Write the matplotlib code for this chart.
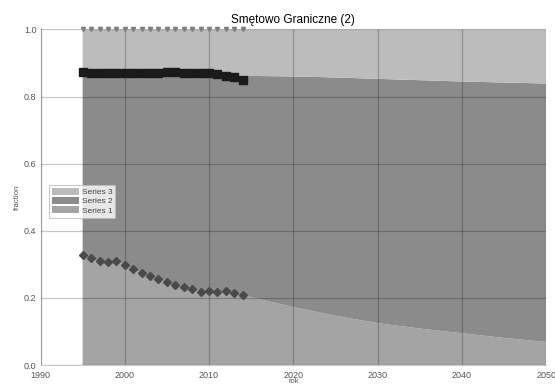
import numpy as np
import matplotlib.pyplot as plt

plt.rcParams['font.family'] = ['Liberation Sans', 'DejaVu Sans']

# historical data points
years_hist = list(range(1995, 2015))
share1_hist = [0.328, 0.318, 0.309, 0.306, 0.310, 0.299, 0.287, 0.274, 0.266, 0.257,
               0.247, 0.239, 0.232, 0.227, 0.219, 0.221, 0.219, 0.220, 0.216, 0.208]
cum2_hist = [0.874, 0.871, 0.869, 0.869, 0.870, 0.870, 0.870, 0.869, 0.870, 0.871,
             0.872, 0.873, 0.871, 0.871, 0.871, 0.871, 0.867, 0.862, 0.857, 0.849]
cum3_hist = [1.0] * 20

# stacked area (model) data
years_area = years_hist + [2020, 2025, 2030, 2035, 2040, 2045, 2050]
area1 = share1_hist + [0.173, 0.147, 0.125, 0.109, 0.095, 0.081, 0.069]
area_top2 = [0.862] * 20 + [0.860, 0.857, 0.853, 0.849, 0.845, 0.842, 0.839]
area2 = [t - a for t, a in zip(area_top2, area1)]
area3 = [1.0 - t for t in area_top2]

labels = ['Series 1', 'Series 2', 'Series 3']
colors = ['#a4a4a4', '#8b8b8b', '#bcbcbc']

fig, ax = plt.subplots(figsize=(5.55, 3.88), dpi=100)
fig.subplots_adjust(left=0.073, right=0.984, bottom=0.059, top=0.924)

ax.stackplot(years_area, area1, area2, area3, colors=colors, labels=labels, zorder=1)

ax.plot(years_hist, cum2_hist, color='#1a1a1a', marker='s', markersize=6, lw=3, zorder=4)
ax.plot(years_hist, share1_hist, color='#4a4a4a', marker='D', markersize=4.5, lw=0, zorder=4)
ax.plot(years_hist, cum3_hist, color='#808080', marker='v', markersize=3, lw=0, zorder=4,
        clip_on=False)

ax.set_xlim(1990, 2050)
ax.set_ylim(0, 1.0)
ax.set_xticks([1990, 2000, 2010, 2020, 2030, 2040, 2050])
ax.set_yticks([0.0, 0.2, 0.4, 0.6, 0.8, 1.0])
ax.set_yticklabels(['0.0', '0.2', '0.4', '0.6', '0.8', '1.0'])
ax.grid(True, color='black', alpha=0.22, lw=0.9, zorder=2)
ax.set_axisbelow(False)
for s in ax.spines.values():
    s.set_visible(False)
ax.spines['left'].set_visible(True)
ax.spines['bottom'].set_visible(True)
ax.spines['left'].set_color('#c8c8c8')
ax.spines['bottom'].set_color('#c8c8c8')
ax.tick_params(length=0, labelsize=6.5, labelcolor='#555555')
ax.tick_params(axis='x', pad=4)
ax.tick_params(axis='y', pad=3)

ax.set_title('Smętowo Graniczne (2)', fontsize=8.5, pad=5)
ax.set_xlabel('rok', fontsize=5.5, color='#555555', labelpad=-1)
ax.set_ylabel('fraction', fontsize=5.5, color='#555555', labelpad=2)

handles, labs = ax.get_legend_handles_labels()
leg = ax.legend(handles[::-1], labs[::-1], loc='upper left', bbox_to_anchor=(0.008, 0.55),
                fontsize=6, frameon=True, fancybox=False, edgecolor='#bbbbbb',
                handlelength=3.3, handleheight=0.9, labelspacing=0.12, borderpad=0.35,
                handletextpad=0.3, labelcolor='#444444')
leg.get_frame().set_linewidth(0.8)

plt.savefig('out.png', dpi=100)
